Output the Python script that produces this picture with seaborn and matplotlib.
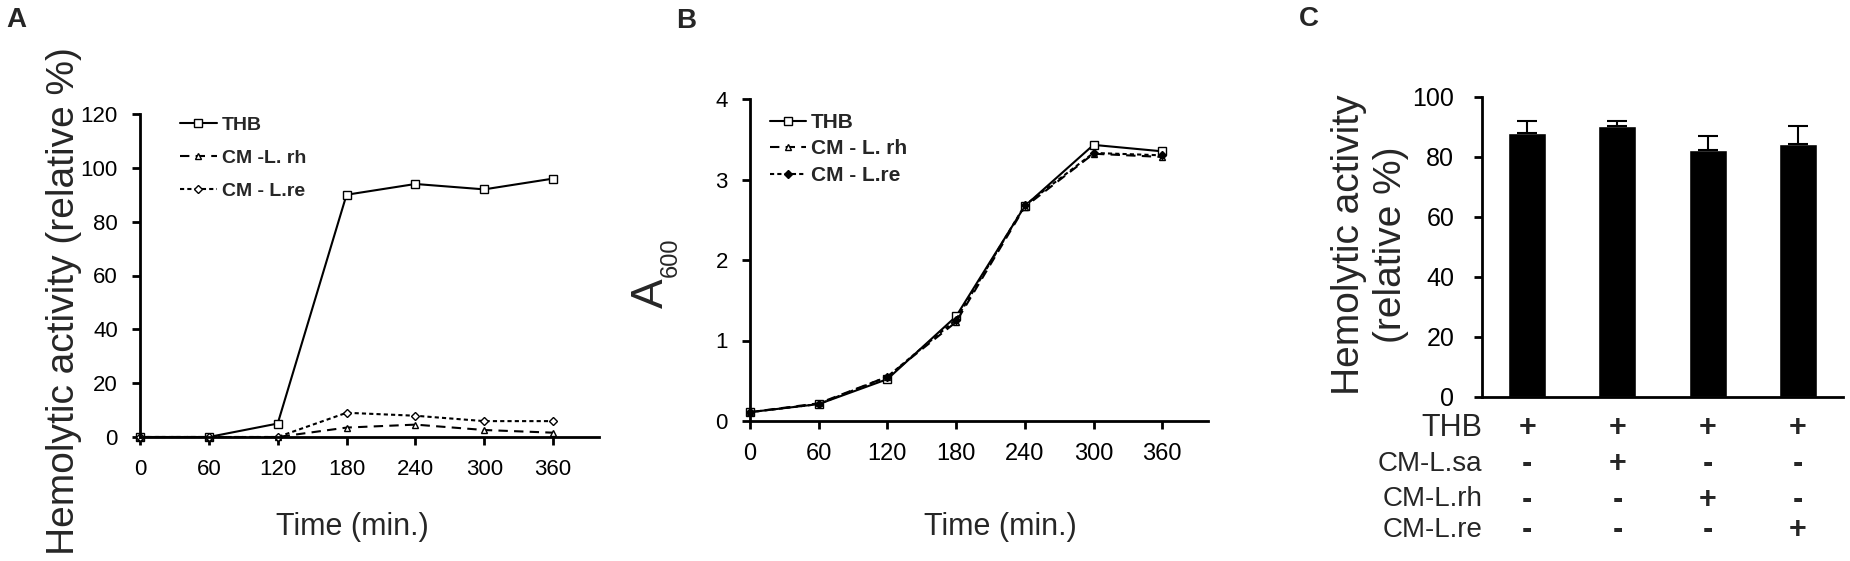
import matplotlib
matplotlib.use("Agg")
from matplotlib import pyplot as plt
from matplotlib.transforms import blended_transform_factory
import seaborn as sns

# --- data ---
time_min = [0, 60, 120, 180, 240, 300, 360]

# panel A: hemolytic activity (relative %)
hemo_thb = [0, 0, 5, 90, 94, 92, 96]
hemo_rh = [0, 0, 0, 3.5, 4.6, 2.6, 1.6]
hemo_re = [0, 0, 0, 9, 7.9, 5.9, 5.9]

# panel B: growth, A600
growth_thb = [0.11, 0.21, 0.52, 1.30, 2.67, 3.43, 3.35]
growth_rh = [0.11, 0.22, 0.55, 1.23, 2.66, 3.32, 3.28]
growth_re = [0.11, 0.21, 0.55, 1.26, 2.68, 3.33, 3.30]

# panel C: hemolytic activity with conditioned media
bar_ids = ["1", "2", "3", "4"]
bar_vals = [88, 90.3, 82.3, 84.3]
bar_err = [4, 1.7, 4.7, 6]
row_names = ["THB", "CM-L.sa", "CM-L.rh", "CM-L.re"]
row_signs = [
    ["+", "+", "+", "+"],
    ["-", "+", "-", "-"],
    ["-", "-", "+", "-"],
    ["-", "-", "-", "+"],
]

sns.set_style("ticks")
plt.rcParams['font.family'] = ['Liberation Sans', 'DejaVu Sans']

W, H = 1850, 561
fig = plt.figure(figsize=(W / 100, H / 100), dpi=100)


def px_axes(left, top, right, bottom):
    return fig.add_axes([left / W, 1 - bottom / H, (right - left) / W, (bottom - top) / H])


def style_axes(ax, pad=10, xsize=16, ysize=16):
    sns.despine(ax=ax)
    for s in ['left', 'bottom']:
        ax.spines[s].set_linewidth(2)
        ax.spines[s].set_color('black')
    ax.tick_params(direction='out', length=6, width=2, colors='black', pad=pad)
    ax.tick_params(axis='x', labelsize=xsize)
    ax.tick_params(axis='y', labelsize=ysize)
    ax.set_xlabel('')
    ax.set_ylabel('')


ax_a = px_axes(140, 114, 599, 437)
ax_b = px_axes(750, 99, 1208, 421)
ax_c = px_axes(1482, 97, 1843, 397)

line_kw = dict(color='black', errorbar=None, clip_on=False, lw=1.5)

# ---------- A ----------
sns.lineplot(x=time_min, y=hemo_thb, ax=ax_a, marker='s', ms=6, mfc='white',
             mec='black', mew=1, ls='-', label='THB', **line_kw)
sns.lineplot(x=time_min, y=hemo_rh, ax=ax_a, marker='^', ms=5, mfc='white',
             mec='black', mew=1, ls=(0, (4.5, 3)), label='CM -L. rh', **line_kw)
sns.lineplot(x=time_min, y=hemo_re, ax=ax_a, marker='D', ms=4, mfc='white',
             mec='black', mew=1, ls=(0, (2, 1.5)), label='CM - L.re', **line_kw)
ax_a.set_xlim(0, 400)
ax_a.set_ylim(0, 120)
ax_a.set_xticks(range(0, 361, 60))
ax_a.set_yticks(range(0, 121, 20))
style_axes(ax_a, xsize=16, ysize=16)
ax_a.legend(loc='upper left', bbox_to_anchor=(0.087, 0.994), frameon=False,
            prop={'weight': 'bold', 'size': 14}, handlelength=1.9,
            handletextpad=0.25, labelspacing=0.8, borderpad=0, borderaxespad=0)

# ---------- B ----------
sns.lineplot(x=time_min, y=growth_thb, ax=ax_b, marker='s', ms=6, mfc='white',
             mec='black', mew=1, ls='-', label='THB', **line_kw)
sns.lineplot(x=time_min, y=growth_rh, ax=ax_b, marker='^', ms=5, mfc='white',
             mec='black', mew=1, ls=(0, (4.5, 3)), label='CM - L. rh', **line_kw)
sns.lineplot(x=time_min, y=growth_re, ax=ax_b, marker='D', ms=4, mfc='black',
             mec='black', mew=1, ls=(0, (2, 1.5)), label='CM - L.re', **line_kw)
ax_b.set_xlim(0, 400)
ax_b.set_ylim(0, 4)
ax_b.set_xticks(range(0, 361, 60))
ax_b.set_yticks(range(0, 5))
style_axes(ax_b, xsize=17, ysize=16)
ax_b.legend(loc='upper left', bbox_to_anchor=(0.044, 0.957), frameon=False,
            prop={'weight': 'bold', 'size': 15}, handlelength=1.7,
            handletextpad=0.25, labelspacing=0.36, borderpad=0, borderaxespad=0)

# ---------- C ----------
sns.barplot(x=bar_ids, y=bar_vals, ax=ax_c, color='black', saturation=1,
            width=0.42, errorbar=None)
ax_c.errorbar(range(len(bar_ids)), bar_vals, yerr=[[0] * len(bar_err), bar_err],
              fmt='none', ecolor='black', elinewidth=1.5, capsize=7, capthick=1.5)
ax_c.set_xlim(-0.5, 3.5)
ax_c.set_ylim(0, 100)
ax_c.set_yticks(range(0, 101, 20))
style_axes(ax_c, pad=14, ysize=18)
ax_c.tick_params(axis='x', length=0, labelbottom=False)

row_y = [424, 461, 496, 527]
trans = blended_transform_factory(ax_c.transData, ax_c.transAxes)
for name, signs, yp in zip(row_names, row_signs, row_y):
    yf = (397 - yp) / 300
    fs = 22 if name == 'THB' else 20
    ax_c.text(0, yf, name, transform=ax_c.transAxes, ha='right',
              va='center_baseline', fontsize=fs)
    for i, s in enumerate(signs):
        ax_c.text(i, yf, s, transform=trans, ha='center', va='center_baseline',
                  fontsize=22, fontweight='bold')

# ---------- axis titles and panel letters ----------
fig.text(64 / W, 1 - 301 / H, 'Hemolytic activity (relative %)', rotation=90,
         ha='center', va='center', fontsize=28)
fig.text(1370 / W, 1 - 245 / H, 'Hemolytic activity\n(relative %)', rotation=90,
         ha='center', va='center', fontsize=28, multialignment='center',
         linespacing=1.2)
fig.text(651 / W, 1 - 293 / H, 'A', rotation=90, ha='center', va='center', fontsize=32)
fig.text(671 / W, 1 - 257 / H, '600', rotation=90, ha='center', va='center', fontsize=17)

fig.text(352 / W, 1 - 527 / H, 'Time (min.)', ha='center', va='center', fontsize=22)
fig.text(1000 / W, 1 - 527 / H, 'Time (min.)', ha='center', va='center', fontsize=22)

for letter, xp, yp in [('A', 16, 20), ('B', 686, 21), ('C', 1309, 19)]:
    fig.text(xp / W, 1 - yp / H, letter, ha='center', va='center',
             fontsize=20, fontweight='bold')

fig.savefig('out.png', dpi=100)
plt.close(fig)
